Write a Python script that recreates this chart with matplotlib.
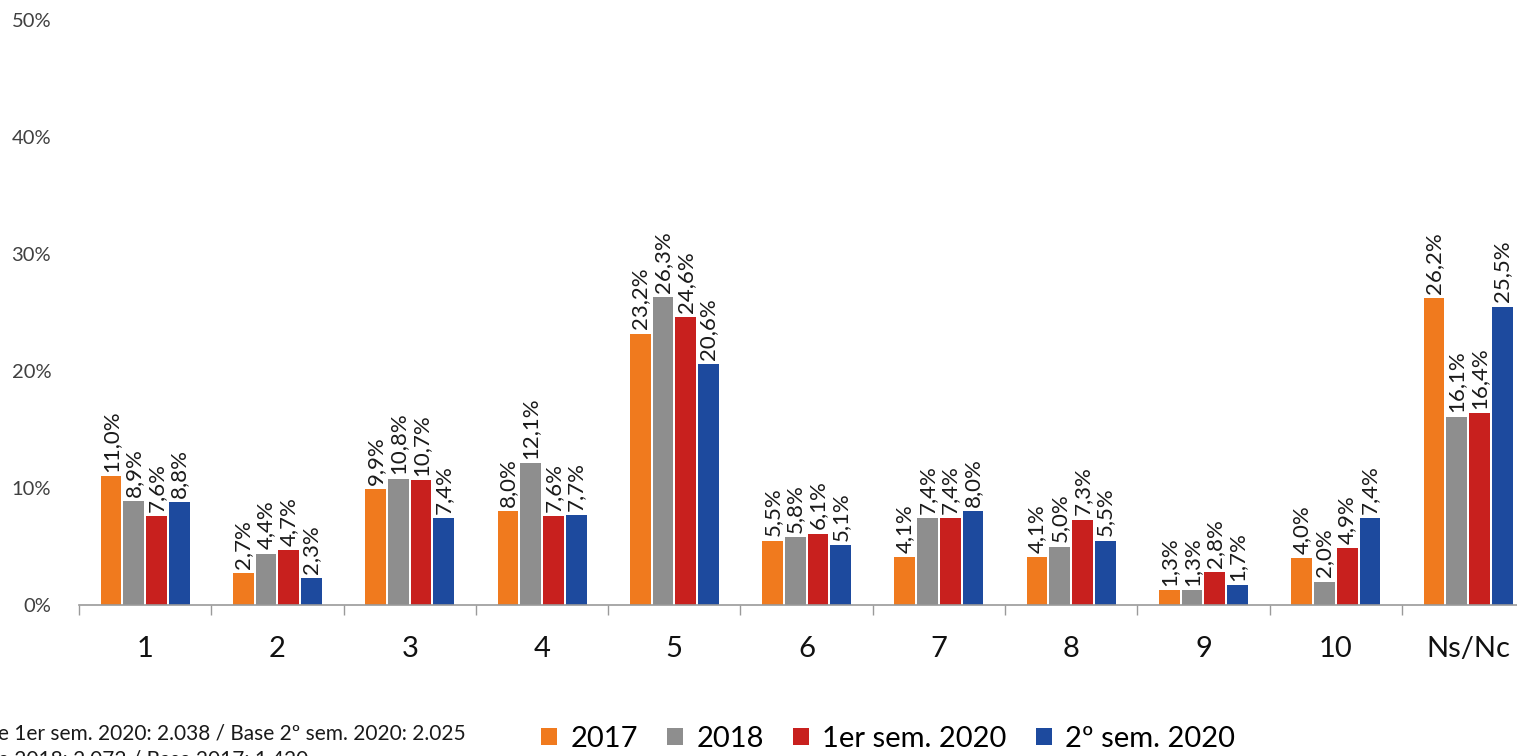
import matplotlib
matplotlib.use("Agg")
import matplotlib.pyplot as plt
from matplotlib.patches import Patch
import numpy as np

plt.rcParams['font.family'] = ['Lato', 'DejaVu Sans']

categories = ["1", "2", "3", "4", "5", "6", "7", "8", "9", "10", "Ns/Nc"]
series_names = ["2017", "2018", "1er sem. 2020", "2º sem. 2020"]
v2017 = [11.0, 2.7, 9.9, 8.0, 23.2, 5.5, 4.1, 4.1, 1.3, 4.0, 26.2]
v2018 = [8.9, 4.4, 10.8, 12.1, 26.3, 5.8, 7.4, 5.0, 1.3, 2.0, 16.1]
v2020a = [7.6, 4.7, 10.7, 7.6, 24.6, 6.1, 7.4, 7.3, 2.8, 4.9, 16.4]
v2020b = [8.8, 2.3, 7.4, 7.7, 20.6, 5.1, 8.0, 5.5, 1.7, 7.4, 25.5]
series = [v2017, v2018, v2020a, v2020b]
colors = ["#F07A1E", "#8E8E8E", "#C8201E", "#1D4A9E"]
yticks = [0, 10, 20, 30, 40, 50]
footnote = ["Base 1er sem. 2020: 2.038 / Base 2º sem. 2020: 2.025",
            "Base 2018: 2.072 / Base 2017: 1.420"]

W, H = 1517, 756
fig = plt.figure(figsize=(W / 100, H / 100), dpi=100)
fig.patch.set_facecolor("white")
ax = fig.add_axes([79 / W, (H - 605) / H, 1 - 79 / W, (605 - 20) / H])

x = np.arange(len(categories))
step = 0.172
bw = 0.157
for i, (vals, c) in enumerate(zip(series, colors)):
    xs = x + (i - 1.5) * step
    ax.bar(xs, vals, width=bw, color=c, zorder=2)
    for xi, v in zip(xs, vals):
        ax.annotate(f"{v:.1f}%".replace(".", ","), (xi, v), xytext=(0, 3),
                    textcoords="offset points", rotation=90, ha="center",
                    va="bottom", fontsize=16, color="#1a1a1a")

ax.set_yticks(yticks)
ax.set_yticklabels([f"{t}%" for t in yticks], fontsize=14.5, color="#404040")
ax.tick_params(axis="y", length=0, pad=20)
ax.set_xticks(x)
ax.set_xticklabels(categories, fontsize=21, color="#111111")
ax.tick_params(axis="x", which="major", length=0, pad=22)
ax.set_xticks(np.arange(-0.5, len(categories), 1.0), minor=True)
ax.tick_params(axis="x", which="minor", length=7, width=1, color="#9a9a9a")
ax.set_xlim(-0.5, 10.37)
ax.set_ylim(0, 50)
for s in ["top", "right", "left"]:
    ax.spines[s].set_visible(False)
ax.spines["bottom"].set_color("#9a9a9a")
ax.spines["bottom"].set_linewidth(1.2)

handles = [Patch(facecolor=c, edgecolor="none") for c in colors]
fig.legend(handles, series_names, loc="center", bbox_to_anchor=(888 / W, 17 / H),
           ncol=4, frameon=False, fontsize=21, handlelength=0.55, handleheight=0.55,
           handletextpad=0.45, columnspacing=1.0, borderaxespad=0)

fig.text(-35 / W, 16 / H, footnote[0], fontsize=15, color="#1a1a1a", va="baseline")
fig.text(-35 / W, -10 / H, footnote[1], fontsize=15, color="#1a1a1a", va="baseline")

fig.savefig("out.png", dpi=100, facecolor="white")
